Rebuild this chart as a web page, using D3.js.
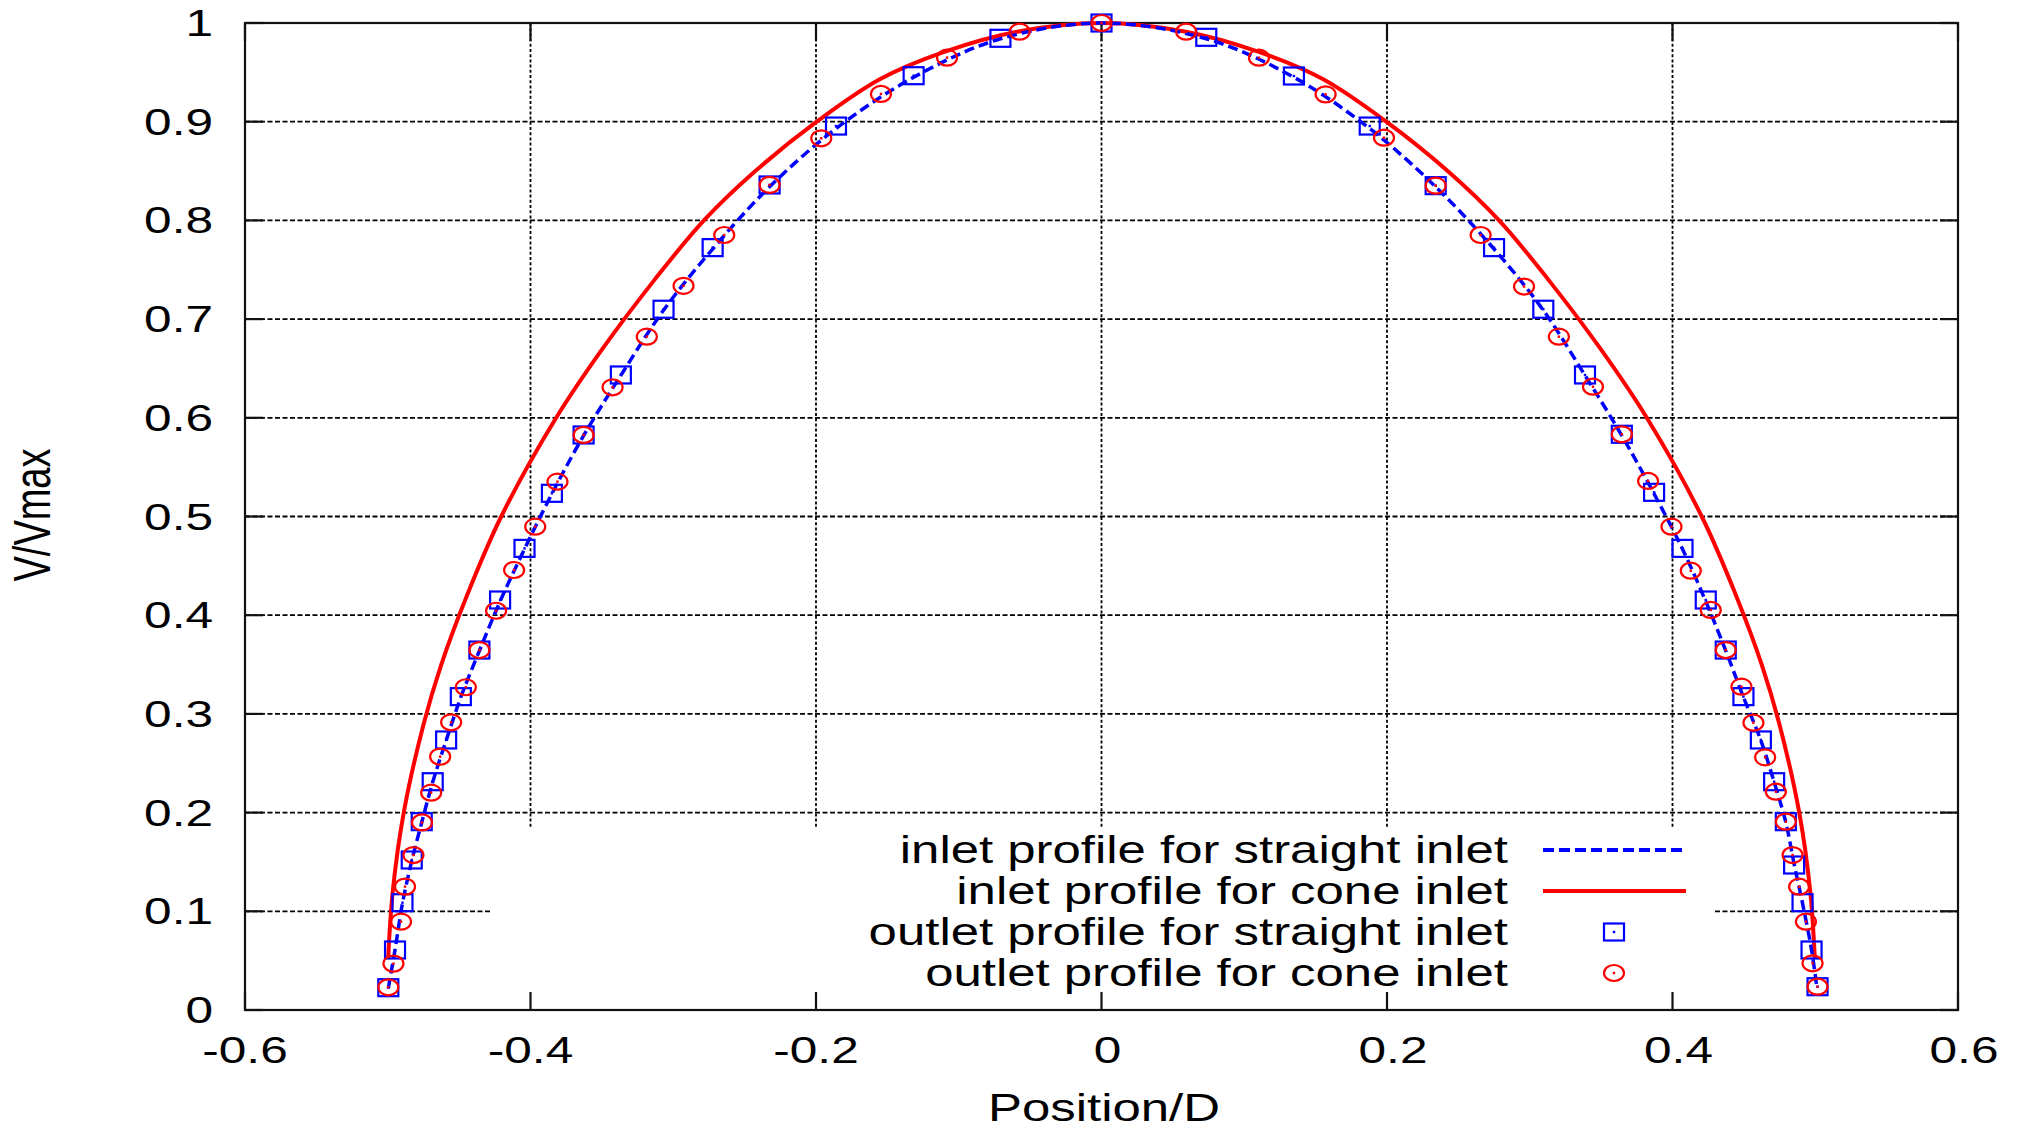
<!DOCTYPE html>
<html>
<head>
<meta charset="utf-8">
<script src="https://cdn.jsdelivr.net/npm/d3@7"></script>
<style>
  html, body { margin: 0; padding: 0; background: #fff; }
  svg { display: block; }
  text { font-family: "Liberation Sans", Arial, Helvetica, sans-serif; fill: #000; }
</style>
</head>
<body>
<svg id="chart" width="2018" height="1130"></svg>
<script>
// ---- data ----
const xTicks = [-0.6, -0.4, -0.2, 0, 0.2, 0.4, 0.6];
const yTicks = [0, 0.1, 0.2, 0.3, 0.4, 0.5, 0.6, 0.7, 0.8, 0.9, 1];
const xTickLabels = ["-0.6", "-0.4", "-0.2", "0", "0.2", "0.4", "0.6"];
const yTickLabels = ["0", "0.1", "0.2", "0.3", "0.4", "0.5", "0.6", "0.7", "0.8", "0.9", "1"];

// inlet profile, straight inlet (dashed blue line)
const inletStraightX = [-0.4996, -0.4949, -0.4897, -0.4832, -0.4762, -0.4685, -0.4591, -0.4488, -0.4358, -0.4213, -0.4042, -0.385, -0.3628, -0.3367, -0.3068, -0.2724, -0.2325, -0.186, -0.1316, -0.0708, 0,
  0.0734, 0.1348, 0.1879, 0.2341, 0.275, 0.3095, 0.3387, 0.3645, 0.3871, 0.407, 0.4233, 0.4373, 0.4497, 0.4619, 0.4712, 0.4794, 0.4852, 0.4911, 0.4974, 0.5012];
const inletStraightY = [0.022, 0.061, 0.108, 0.151, 0.19, 0.231, 0.273, 0.317, 0.364, 0.414, 0.467, 0.523, 0.582, 0.643, 0.709, 0.771, 0.834, 0.893, 0.945, 0.984, 1.0,
  0.984, 0.945, 0.893, 0.834, 0.771, 0.709, 0.643, 0.582, 0.523, 0.467, 0.414, 0.364, 0.317, 0.273, 0.231, 0.19, 0.148, 0.108, 0.061, 0.022];

// inlet profile, cone inlet (solid red line)
const inletConeX = [-0.4997, -0.4965, -0.4888, -0.4748, -0.4625, -0.4445, -0.4205, -0.382, -0.3495, -0.313, -0.2785, -0.2425, -0.1995, -0.1553, -0.1097, -0.0591, 0,
  0.0591, 0.1097, 0.1553, 0.1995, 0.2425, 0.2785, 0.313, 0.3495, 0.382, 0.4205, 0.4445, 0.4625, 0.4748, 0.4888, 0.4965, 0.4997];
const inletConeY = [0.052, 0.12, 0.2, 0.29, 0.35, 0.42, 0.5, 0.6, 0.67, 0.74, 0.8, 0.85, 0.9, 0.943, 0.971, 0.9912, 1.0,
  0.9912, 0.971, 0.943, 0.9, 0.85, 0.8, 0.74, 0.67, 0.6, 0.5, 0.42, 0.35, 0.29, 0.2, 0.12, 0.052];

// outlet profile, straight inlet (blue squares)
const outletStraightX = [-0.4996, -0.4949, -0.4897, -0.4832, -0.4762, -0.4685, -0.4591, -0.4488, -0.4358, -0.4213, -0.4042, -0.385, -0.3628, -0.3367, -0.3068, -0.2724, -0.2325, -0.186, -0.1316, -0.0708, 0,
  0.0734, 0.1348, 0.1879, 0.2341, 0.275, 0.3095, 0.3387, 0.3645, 0.3871, 0.407, 0.4233, 0.4373, 0.4497, 0.4619, 0.4712, 0.4794, 0.4852, 0.4911, 0.4974, 0.5016];
const outletStraightY = [0.0226, 0.0608, 0.1087, 0.152, 0.1908, 0.2313, 0.2736, 0.3175, 0.3647, 0.4154, 0.4677, 0.5235, 0.5826, 0.6434, 0.71, 0.7724, 0.8359, 0.8956, 0.9466, 0.9845, 1.0,
  0.9855, 0.9463, 0.8956, 0.8352, 0.7724, 0.71, 0.6434, 0.5833, 0.5245, 0.4677, 0.4154, 0.3647, 0.3175, 0.2736, 0.2313, 0.1908, 0.1469, 0.1087, 0.0608, 0.0236];

// outlet profile, cone inlet (red circles)
const outletConeX = [-0.4996, -0.496, -0.4907, -0.4879, -0.482, -0.476, -0.4696, -0.4633, -0.4556, -0.4453, -0.4358, -0.4241, -0.4115, -0.3967, -0.3811, -0.3628, -0.3425, -0.3185, -0.2928, -0.2643, -0.2325, -0.1963, -0.1545, -0.1082, -0.0573, 0,
  0.0593, 0.1103, 0.157, 0.1979, 0.2341, 0.2656, 0.296, 0.3204, 0.3443, 0.3645, 0.3829, 0.3993, 0.4128, 0.4268, 0.4373, 0.4483, 0.4567, 0.4649, 0.4724, 0.4794, 0.4841, 0.4887, 0.4935, 0.4981, 0.5016];
const outletConeY = [0.023, 0.047, 0.0895, 0.125, 0.157, 0.19, 0.2202, 0.2567, 0.2915, 0.327, 0.3647, 0.4045, 0.4458, 0.4897, 0.5353, 0.5826, 0.6309, 0.6822, 0.7337, 0.7852, 0.8359, 0.8832, 0.9281, 0.9649, 0.9912, 1.0,
  0.9912, 0.9649, 0.9277, 0.8838, 0.8352, 0.7852, 0.733, 0.6822, 0.6315, 0.5833, 0.536, 0.4897, 0.4451, 0.4053, 0.3647, 0.3276, 0.2911, 0.256, 0.2212, 0.1908, 0.157, 0.1249, 0.0895, 0.0473, 0.0236];

const legendLabels = [
  "inlet profile for straight inlet",
  "inlet profile for cone inlet",
  "outlet profile for straight inlet",
  "outlet profile for cone inlet"
];

// ---- layout ----
const plot = { left: 245, right: 1958, top: 23, bottom: 1010 };
const TX = 1.34;              // horizontal glyph stretch used for all text
const svg = d3.select("#chart");

const x = d3.scaleLinear().domain([-0.6, 0.6]).range([plot.left, plot.right]);
const y = d3.scaleLinear().domain([0, 1]).range([plot.bottom, plot.top]);

function label(parent, px, py, str, anchor, size, rotate) {
  const g = parent.append("g")
    .attr("transform", `translate(${px},${py}) scale(${TX},1)` + (rotate ? ` rotate(${rotate})` : ""));
  g.append("text")
    .attr("text-anchor", anchor)
    .attr("font-size", size)
    .text(str);
  return g;
}

// ---- grid ----
const grid = svg.append("g").attr("stroke", "#000").attr("stroke-width", 1.8);
grid.selectAll("line.h")
  .data(yTicks.filter(v => v > 0 && v < 1))
  .join("line")
  .attr("x1", plot.left).attr("x2", plot.right)
  .attr("y1", d => y(d)).attr("y2", d => y(d))
  .attr("stroke-dasharray", "5,2.5");
grid.selectAll("line.v")
  .data(xTicks.filter(v => v > -0.6 && v < 0.6))
  .join("line")
  .attr("x1", d => x(d)).attr("x2", d => x(d))
  .attr("y1", plot.top).attr("y2", plot.bottom)
  .attr("stroke-dasharray", "3,2.2");

// legend backdrop hides the grid behind the key
const legendBox = { x0: 491, x1: 1713, y0: 828 };
svg.append("rect")
  .attr("x", legendBox.x0).attr("y", legendBox.y0)
  .attr("width", legendBox.x1 - legendBox.x0)
  .attr("height", plot.bottom - legendBox.y0)
  .attr("fill", "#fff");

// ---- axes: frame with mirrored inward ticks ----
const tickLen = 18;
const axes = svg.append("g").attr("stroke", "#111").attr("stroke-width", 2.2).attr("fill", "none");
axes.append("rect")
  .attr("x", plot.left).attr("y", plot.top)
  .attr("width", plot.right - plot.left).attr("height", plot.bottom - plot.top);
xTicks.forEach(v => {
  axes.append("line").attr("x1", x(v)).attr("x2", x(v)).attr("y1", plot.bottom).attr("y2", plot.bottom - tickLen);
  axes.append("line").attr("x1", x(v)).attr("x2", x(v)).attr("y1", plot.top).attr("y2", plot.top + tickLen);
});
yTicks.forEach(v => {
  axes.append("line").attr("x1", plot.left).attr("x2", plot.left + tickLen).attr("y1", y(v)).attr("y2", y(v));
  axes.append("line").attr("x1", plot.right).attr("x2", plot.right - tickLen).attr("y1", y(v)).attr("y2", y(v));
});

// tick labels
yTicks.forEach((v, i) => label(svg, 213, y(v) + 13, yTickLabels[i], "end", 37));
xTicks.forEach((v, i) => label(svg, x(v) + (v >= 0 ? 6 : 0), 1063, xTickLabels[i], "middle", 37));

// axis titles
label(svg, 1104, 1121, "Position/D", "middle", 38);
label(svg, 50, 515, "V/Vmax", "middle", 38, -90);

// ---- series ----
const lineGen = d3.line().x(d => x(d[0])).y(d => y(d[1])).curve(d3.curveCatmullRom.alpha(0.5));
const zip = (a, b) => a.map((v, i) => [v, b[i]]);

const series = svg.append("g");
series.append("path")
  .datum(zip(inletConeX, inletConeY))
  .attr("d", lineGen)
  .attr("fill", "none").attr("stroke", "#ff0000").attr("stroke-width", 4);
series.append("path")
  .datum(zip(inletStraightX, inletStraightY))
  .attr("d", lineGen)
  .attr("fill", "none").attr("stroke", "#0000ff").attr("stroke-width", 3.5)
  .attr("stroke-dasharray", "10,5");

const SQ_W = 20, SQ_H = 17, CI_RX = 10, CI_RY = 8;
function square(g, cx, cy) {
  g.append("rect").attr("x", cx - SQ_W / 2).attr("y", cy - SQ_H / 2)
    .attr("width", SQ_W).attr("height", SQ_H)
    .attr("fill", "none").attr("stroke", "#0000ff").attr("stroke-width", 2.2);
  g.append("rect").attr("x", cx - 1.2).attr("y", cy - 1.2).attr("width", 2.4).attr("height", 2.4).attr("fill", "#0000ff");
}
function circle(g, cx, cy) {
  g.append("ellipse").attr("cx", cx).attr("cy", cy).attr("rx", CI_RX).attr("ry", CI_RY)
    .attr("fill", "none").attr("stroke", "#ff0000").attr("stroke-width", 2.2);
  g.append("rect").attr("x", cx - 1.2).attr("y", cy - 1.2).attr("width", 2.4).attr("height", 2.4).attr("fill", "#ff0000");
}
const sqG = svg.append("g");
zip(outletStraightX, outletStraightY).forEach(d => square(sqG, x(d[0]), y(d[1])));
const ciG = svg.append("g");
zip(outletConeX, outletConeY).forEach(d => circle(ciG, x(d[0]), y(d[1])));

// ---- legend ----
const legRows = [850, 891, 932, 973];
const legText = 1508, legS0 = 1543, legS1 = 1686, legMid = 1614;
const leg = svg.append("g");
legendLabels.forEach((t, i) => label(leg, legText, legRows[i] + 13, t, "end", 38));
leg.append("line").attr("x1", legS0).attr("x2", legS1).attr("y1", legRows[0]).attr("y2", legRows[0])
  .attr("stroke", "#0000ff").attr("stroke-width", 4).attr("stroke-dasharray", "11,5");
leg.append("line").attr("x1", legS0).attr("x2", legS1).attr("y1", legRows[1]).attr("y2", legRows[1])
  .attr("stroke", "#ff0000").attr("stroke-width", 4);
square(leg, legMid, legRows[2]);
circle(leg, legMid, legRows[3]);
</script>
</body>
</html>
